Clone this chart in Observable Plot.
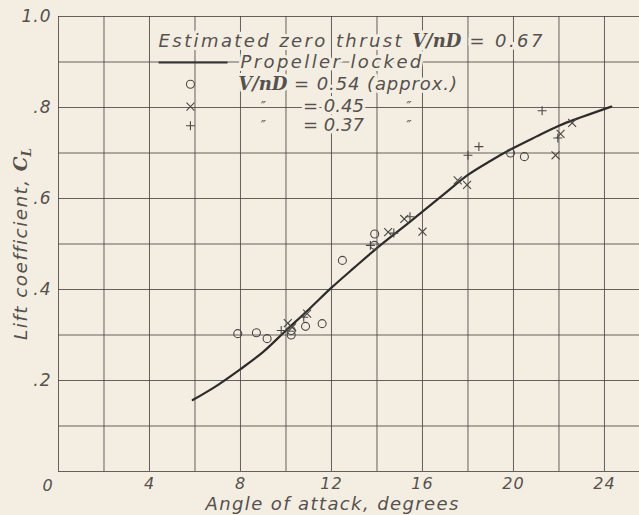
<!DOCTYPE html>
<html>
<head>
<meta charset="utf-8">
<script src="https://cdn.jsdelivr.net/npm/d3@7"></script>
<script src="https://cdn.jsdelivr.net/npm/@observablehq/plot@0.6"></script>
<style>
  html, body { margin: 0; padding: 0; background: #f4eee2; }
  svg { display: block; }
  .lt text { font-style: italic; letter-spacing: 1px; }
  .halo text { paint-order: stroke; }
  .wide text { letter-spacing: 2.4px; }
  .mid text { letter-spacing: 0.9px; }
  .ttl text { letter-spacing: 1.4px; }
  .vnd { font-family: "DejaVu Serif", serif; font-weight: bold; font-style: italic; letter-spacing: 0; }
</style>
</head>
<body>
<div id="chart"></div>
<script>
// Propeller locked curve
const curveAlpha = [5.9, 7, 8, 9, 10, 11, 12, 13, 14, 15, 16, 17, 18, 19, 20, 21, 22, 23, 24.3];
const curveCL    = [0.157, 0.19, 0.225, 0.263, 0.31, 0.356, 0.404, 0.448, 0.491, 0.531, 0.571, 0.612, 0.652, 0.683, 0.711, 0.736, 0.760, 0.779, 0.802];

// V/nD = 0.54 (approx.) — circles
const c54Alpha = [7.88, 8.7, 9.17, 10.23, 10.23, 10.86, 11.59, 12.48, 13.89, 13.9, 19.87, 20.48];
const c54CL    = [0.303, 0.305, 0.292, 0.31, 0.30, 0.319, 0.325, 0.464, 0.497, 0.522, 0.70, 0.692];

// V/nD = 0.45 — crosses (x)
const c45Alpha = [10.08, 10.27, 10.93, 14.49, 15.2, 16.0, 17.55, 17.96, 21.85, 22.07, 22.58];
const c45CL    = [0.326, 0.317, 0.347, 0.526, 0.555, 0.527, 0.640, 0.630, 0.695, 0.742, 0.766];

// V/nD = 0.37 — plus signs
const c37Alpha = [9.79, 10.78, 13.71, 14.74, 15.45, 18.0, 18.48, 21.26, 21.95];
const c37CL    = [0.31, 0.339, 0.497, 0.524, 0.56, 0.695, 0.714, 0.793, 0.733];

const xTicks = [4, 8, 12, 16, 20, 24];
const yTicks = [0.2, 0.4, 0.6, 0.8, 1.0];
const yTickLabels = [".2", ".4", ".6", ".8", "1.0"];

const xTitle = "Angle of attack, degrees";
const yTitle = "Lift coefficient, CL";
const legendLines = [
  "Estimated zero thrust V/nD = 0.67",
  "Propeller locked",
  "V/nD = 0.54 (approx.)"
];

const BG = "#f4eee2";
const INK = "#4a4745";
const TXT = "#55514e";
const FONT = "'DejaVu Sans', sans-serif";

const curve = curveAlpha.map((a, i) => ({a, cl: curveCL[i]}));
const s54 = c54Alpha.map((a, i) => ({a, cl: c54CL[i]}));
const s45 = c45Alpha.map((a, i) => ({a, cl: c45CL[i]}));
const s37 = c37Alpha.map((a, i) => ({a, cl: c37CL[i]}));

// legend layout (data-space anchors)
const LX = 4.4, LY = [0.945, 0.899, 0.851, 0.802, 0.760];
const symX = 5.8, txtX = 7.9;

const textBase = {fontFamily: FONT, fontSize: 18, fill: TXT, stroke: BG, strokeWidth: 6, fontStyle: "italic"};

const chart = Plot.plot({
  width: 639,
  height: 515,
  marginLeft: 58,
  marginRight: 0,
  marginTop: 16,
  marginBottom: 44,
  style: {background: BG, fontFamily: FONT, color: TXT},
  x: {domain: [0, 25.54], ticks: xTicks},
  y: {domain: [0, 1]},
  marks: [
    Plot.gridX(d3.range(0, 26, 2), {stroke: INK, strokeOpacity: 0.85, strokeWidth: 1}),
    Plot.gridY(d3.range(0, 1.01, 0.1), {stroke: INK, strokeOpacity: 0.85, strokeWidth: 1}),
    // legend text with halos
    Plot.text([legendLines[0]], {...textBase, x: LX, y: LY[0], textAnchor: "start", className: "halo wide"}),
    Plot.link([0], {x1: LX, x2: 7.43, y1: LY[1], y2: LY[1], stroke: "#333", strokeWidth: 2}),
    Plot.text([legendLines[1]], {...textBase, x: txtX + 0.1, y: LY[1], textAnchor: "start", className: "halo wide"}),
    Plot.text([legendLines[2]], {...textBase, x: txtX, y: LY[2], textAnchor: "start", className: "halo mid"}),
    Plot.dot([0], {x: symX, y: LY[2], r: 4, symbol: "circle", stroke: INK, strokeWidth: 1.1, fill: BG}),
    Plot.dot([0], {x: symX, y: LY[3], r: 3.7, symbol: "times", stroke: INK, strokeWidth: 1.1}),
    Plot.dot([0], {x: symX, y: LY[4], r: 3.0, symbol: "plus", stroke: INK, strokeWidth: 1.1}),
    Plot.text(["\u2033", "\u2033"], {...textBase, x: [9.0, 15.4], y: [LY[3], LY[3]], fontSize: 14, className: "halo"}),
    Plot.text(["\u2033", "\u2033"], {...textBase, x: [9.0, 15.4], y: [LY[4], LY[4]], fontSize: 14, className: "halo"}),
    Plot.text(["= 0.45"], {...textBase, x: 10.75, y: LY[3], textAnchor: "start", className: "halo"}),
    Plot.text(["= 0.37"], {...textBase, x: 10.75, y: LY[4], textAnchor: "start", className: "halo"}),
    // data
    Plot.line(curve, {x: "a", y: "cl", curve: "catmull-rom", stroke: "#2e2c2b", strokeWidth: 2.2}),
    Plot.dot(s54, {x: "a", y: "cl", r: 4, symbol: "circle", stroke: INK, strokeWidth: 1.1, fill: "none"}),
    Plot.dot(s45, {x: "a", y: "cl", r: 3.7, symbol: "times", stroke: INK, strokeWidth: 1.1}),
    Plot.dot(s37, {x: "a", y: "cl", r: 3.0, symbol: "plus", stroke: INK, strokeWidth: 1.1}),
    // axes
    Plot.axisX({ticks: xTicks, tickSize: 0, tickPadding: 6, fontSize: 16, label: null, className: "lt"}),
    Plot.axisY({ticks: yTicks, tickSize: 0, tickPadding: 7, fontSize: 17, label: null, className: "lt",
      tickFormat: d => yTickLabels[yTicks.findIndex(t => Math.abs(t - d) < 1e-9)]}),
    Plot.text(["0"], {x: 0, y: 0, dx: -11, dy: 14, fontSize: 16, fontStyle: "italic", fill: TXT, fontFamily: FONT}),
    Plot.text([xTitle], {x: 12.05, frameAnchor: "bottom", dy: 38, textAnchor: "middle", fontSize: 18, fontStyle: "italic", fill: TXT, fontFamily: FONT, className: "ttl"}),
    Plot.text([yTitle], {y: 0.50, frameAnchor: "left", dx: -37, textAnchor: "middle", rotate: -90, fontSize: 18.5, fontStyle: "italic", fill: TXT, fontFamily: FONT, className: "ttl"})
  ]
});

// rich text: bold serif V/nD and C_L
chart.querySelectorAll("text").forEach(t => {
  const s = t.textContent;
  if (s.includes("V/nD")) {
    t.innerHTML = s.replace("V/nD", '<tspan class="vnd">V/nD</tspan>');
  } else if (s === yTitle) {
    t.innerHTML = 'Lift coefficient, <tspan class="vnd">C</tspan><tspan class="vnd" font-size="12" dy="4">L</tspan>';
  }
});

document.getElementById("chart").appendChild(chart);
</script>
</body>
</html>
